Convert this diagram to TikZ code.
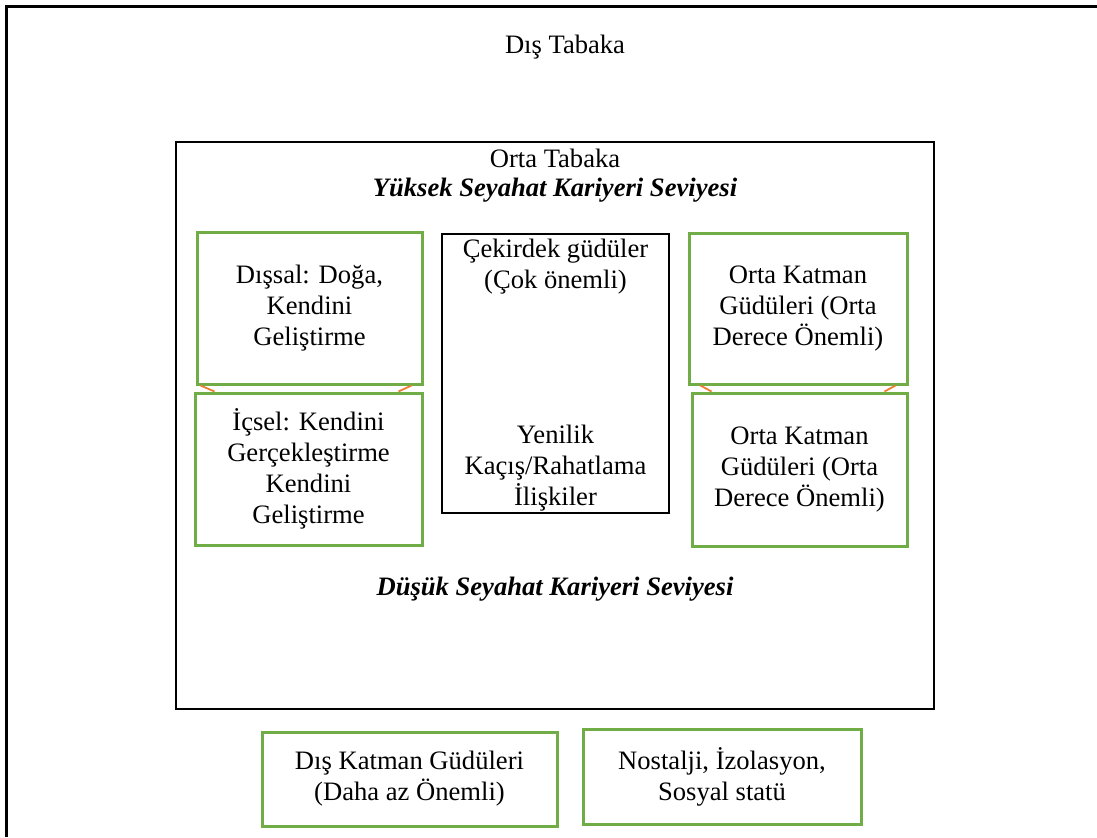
\documentclass[tikz,border=0pt]{standalone}
\usepackage{fontspec}
\setmainfont{Liberation Serif}
\usetikzlibrary{positioning}
\definecolor{mygreencol}{HTML}{70AD47}
\definecolor{myorangecol}{HTML}{ED7D31}
\begin{document}
\begin{tikzpicture}[x=0.5pt,y=-0.5pt,font=\fontsize{13.3}{15.5}\selectfont]
\tikzstyle{mygreen} = [draw=mygreencol, line width=1.5pt, inner sep=0pt, align=center] % green motive box
\tikzstyle{myblack} = [draw=black, line width=1.4pt, inner sep=0pt] % black layer box
\tikzstyle{mylink} = [draw=myorangecol, line width=0.9pt] % orange connector
\tikzstyle{mylevel} = [font=\fontsize{13.3}{15.5}\selectfont\bfseries\itshape] % level caption
\useasboundingbox (0,0) rectangle (1097,837);
% outer layer (clipped frame)
\draw[line width=1.5pt] (6,837) -- (6,6) -- (1097,6);
\node (dis) at (565,47) {Dış Tabaka};
% middle layer
\node[myblack, minimum width=379pt, minimum height=283.5pt] (orta) at (555,425.5) {};
\node (ortatitle) at (555,158) {Orta Tabaka};
\node[mylevel] (yuksek) at (555,190) {Yüksek Seyahat Kariyeri Seviyesi};
\node[mylevel] (dusuk) at (555,589) {Düşük Seyahat Kariyeri Seviyesi};
% core box
\node[myblack, line width=1.2pt, minimum width=113.5pt, minimum height=139.5pt] (cekirdek) at (555.5,373.5) {};
\node[align=center] (cekirdektop) at (555.5,267) {Çekirdek güdüler\\(Çok önemli)};
\node[align=center] (cekirdekbot) at (555.5,468) {Yenilik\\Kaçış/Rahatlama\\İlişkiler};
% left column
\node[mygreen, minimum width=112.5pt, minimum height=76pt] (dissal) at (309.5,308) {Dışsal: Doğa,\\Kendini\\Geliştirme};
\node[mygreen, minimum width=113.5pt, minimum height=76pt] (icsel) at (308.5,469) {İçsel: Kendini\\Gerçekleştirme\\Kendini\\Geliştirme};
% right column
\node[mygreen, minimum width=109pt, minimum height=75.5pt] (ortakatA) at (798,308.5) {Orta Katman\\Güdüleri (Orta\\Derece Önemli)};
\node[mygreen, minimum width=107.5pt, minimum height=76.5pt] (ortakatB) at (799.5,469.5) {Orta Katman\\Güdüleri (Orta\\Derece Önemli)};
% outer motives
\node[mygreen, minimum width=147.5pt, minimum height=47pt] (diskat) at (409.5,779) {Dış Katman Güdüleri\\(Daha az Önemli)};
\node[mygreen, minimum width=139pt, minimum height=47.5pt] (nostalji) at (722,776.5) {Nostalji, İzolasyon,\\Sosyal statü};
% orange links
\draw[mylink] ([xshift=2.5pt]dissal.south west) -- ([xshift=10.5pt]icsel.north west);
\draw[mylink] ([xshift=-6pt]dissal.south east) -- ([xshift=-12.5pt]icsel.north east);
\draw[mylink] ([xshift=6.5pt]ortakatA.south west) -- ([xshift=10.5pt]ortakatB.north west);
\draw[mylink] ([xshift=-6.5pt]ortakatA.south east) -- ([xshift=-12pt]ortakatB.north east);
\end{tikzpicture}
\end{document}
